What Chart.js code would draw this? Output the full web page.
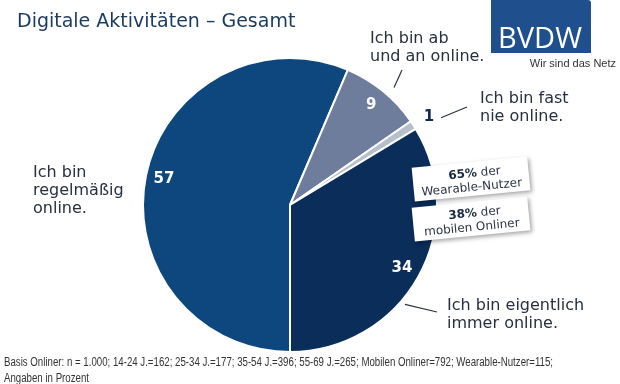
<!DOCTYPE html>
<html><head><meta charset="utf-8">
<script src="https://cdn.jsdelivr.net/npm/chart.js@4/dist/chart.umd.min.js"></script>
<style>html,body{margin:0;padding:0;background:#fff;}canvas{display:block;}</style>
</head><body>
<canvas id="c" width="620" height="384"></canvas>
<script>
const categories = ["Ich bin regelmäßig online.", "Ich bin ab und an online.", "Ich bin fast nie online.", "Ich bin eigentlich immer online."];
const values = [57, 9, 1, 34];
const valueLabels = ["57", "9", "1", "34"];
const colors = ["#0d477d", "#6f7d9c", "#b8bfcc", "#0a2d59"];
const titleText = "Digitale Aktivitäten – Gesamt";
const footerLines = ["Basis Onliner: n = 1.000; 14-24 J.=162; 25-34 J.=177; 35-54 J.=396; 55-69 J.=265; Mobilen Onliner=792; Wearable-Nutzer=115;", "Angaben in Prozent"];
const calloutBold = ["65%", "38%"];
const calloutRest = [" der", " der"];
const calloutSecond = ["Wearable-Nutzer", "mobilen Onliner"];

const R = 147, CX = 290, CY = 205;

const overlay = {
  id: 'overlay',
  afterDatasetsDraw(chart){
    const ctx = chart.ctx;
    const arcs = chart.getDatasetMeta(0).data;
    const mids = arcs.map(a => (a.startAngle + a.endAngle)/2);
    const cx = arcs[0].x, cy = arcs[0].y, rr = arcs[0].outerRadius;
    const P = (a, r) => [cx + Math.cos(a)*r, cy + Math.sin(a)*r];
    ctx.save();
    // value labels
    ctx.textAlign = 'center'; ctx.textBaseline = 'middle';
    ctx.font = 'bold 15px "DejaVu Sans"';
    [0,1,3].forEach(i => {
      const p = P(mids[i], rr*0.875);
      ctx.fillStyle = '#ffffff';
      ctx.fillText(valueLabels[i], p[0], p[1]);
    });
    const p1 = P(mids[2] + 0.01, rr*1.12);
    ctx.fillStyle = '#0d2a50';
    ctx.fillText(valueLabels[2], p1[0], p1[1]);
    // leader lines
    ctx.strokeStyle = '#2b3442'; ctx.lineWidth = 1.2;
    function line(a,b){ ctx.beginPath(); ctx.moveTo(a[0],a[1]); ctx.lineTo(b[0],b[1]); ctx.stroke(); }
    line(P(mids[1]+0.04, rr+10), [402, 70]);
    line([p1[0]+12, p1[1]+1], [467, 107]);
    line(P(mids[3]+0.2, rr+5), [437, 312]);
    // category labels
    ctx.textAlign = 'left'; ctx.textBaseline = 'alphabetic';
    ctx.fillStyle = '#27303c';
    ctx.font = '16px "DejaVu Sans"';
    ctx.fillText("Ich bin", 33, 177); ctx.fillText("regelmäßig", 33, 195); ctx.fillText("online.", 33, 213);
    ctx.fillText("Ich bin ab", 370, 43); ctx.fillText("und an online.", 370, 61);
    ctx.fillText("Ich bin fast", 480, 103); ctx.fillText("nie online.", 480, 121);
    ctx.fillText("Ich bin eigentlich", 447, 310); ctx.fillText("immer online.", 447, 328);
    // callout boxes
    const boxes = [[471,179],[471,219]];
    boxes.forEach((b, i) => {
      ctx.save();
      ctx.translate(b[0], b[1]);
      ctx.rotate(-5.5*Math.PI/180);
      ctx.shadowColor = 'rgba(0,0,0,0.35)'; ctx.shadowBlur = 4; ctx.shadowOffsetX = 2; ctx.shadowOffsetY = 2;
      ctx.fillStyle = '#ffffff';
      ctx.fillRect(-58, -17, 116, 34);
      ctx.shadowColor = 'transparent';
      ctx.textBaseline = 'alphabetic';
      ctx.font = 'bold 12px "DejaVu Sans"';
      const w1 = ctx.measureText(calloutBold[i]).width;
      ctx.font = '12px "DejaVu Sans"';
      const w2 = ctx.measureText(calloutRest[i]).width;
      let x0 = -(w1+w2)/2 + 4;
      ctx.fillStyle = '#1b2a40';
      ctx.font = 'bold 12px "DejaVu Sans"';
      ctx.textAlign = 'left';
      ctx.fillText(calloutBold[i], x0, -2);
      ctx.font = '12px "DejaVu Sans"';
      ctx.fillStyle = '#2b3442';
      ctx.fillText(calloutRest[i], x0 + w1, -2);
      ctx.textAlign = 'center';
      ctx.fillText(calloutSecond[i], 0, 12);
      ctx.restore();
    });
    ctx.restore();
  },
  beforeDraw(chart){
    const ctx = chart.ctx;
    ctx.save();
    ctx.fillStyle = '#fff'; ctx.fillRect(0,0,620,384);
    // title
    ctx.fillStyle = '#1b3a5e';
    ctx.font = '19px "DejaVu Sans"';
    ctx.textAlign = 'left'; ctx.textBaseline = 'alphabetic';
    ctx.fillText(titleText, 17, 27);
    // logo
    ctx.fillStyle = '#1f4f8d';
    ctx.beginPath();
    ctx.moveTo(491,0); ctx.lineTo(588,0); ctx.quadraticCurveTo(591,0,591,3); ctx.lineTo(591,53); ctx.lineTo(491,53); ctx.closePath(); ctx.fill();
    ctx.fillStyle = '#ffffff';
    ctx.font = '29px "Open Sans"';
    ctx.textAlign = 'center';
    ctx.fillText("BVDW", 540, 48);
    ctx.fillStyle = '#333';
    ctx.font = '11px "Liberation Sans"';
    ctx.textAlign = 'right';
    ctx.fillText("Wir sind das Netz", 616, 67);
    // footer
    ctx.fillStyle = '#333';
    ctx.textAlign = 'left';
    ctx.font = '12px "Liberation Sans"';
    const w = ctx.measureText(footerLines[0]).width;
    const sx = 549 / w;
    ctx.save(); ctx.translate(4, 366); ctx.scale(sx, 1); ctx.fillText(footerLines[0], 0, 0); ctx.restore();
    ctx.save(); ctx.translate(4, 382); ctx.scale(sx, 1); ctx.fillText(footerLines[1], 0, 0); ctx.restore();
    ctx.restore();
  }
};

new Chart(document.getElementById('c'), {
  type: 'pie',
  data: { labels: categories, datasets: [{ data: values, backgroundColor: colors, borderColor: '#ffffff', borderWidth: 2, hoverOffset: 0 }] },
  options: {
    responsive: false, animation: false,
    rotation: 180,
    radius: R,
    layout: { padding: { left: CX - R, right: 620 - CX - R, top: CY - R, bottom: 384 - CY - R } },
    plugins: { legend: { display: false }, tooltip: { enabled: false }, title: { display: false } }
  },
  plugins: [overlay]
});
</script>
</body></html>
